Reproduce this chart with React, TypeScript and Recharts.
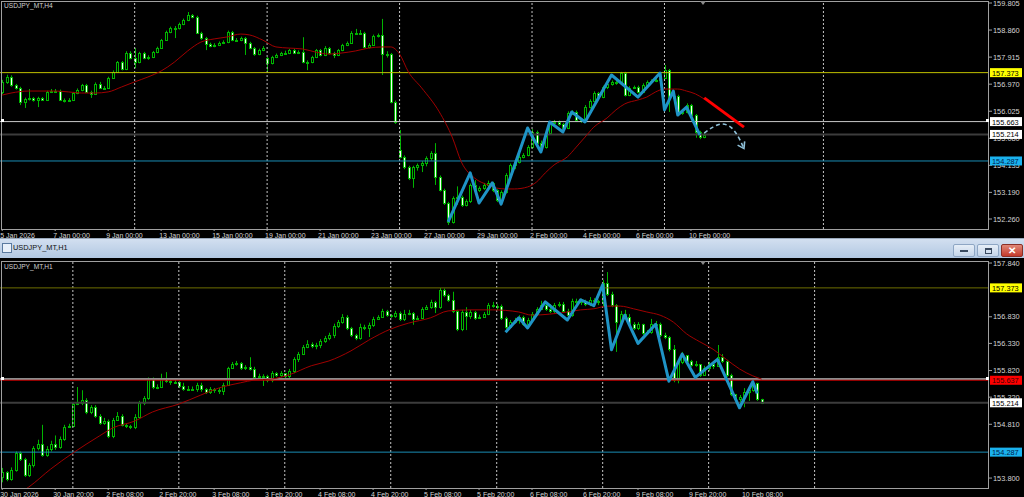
import React from 'react';
import { ComposedChart, Bar, Line, XAxis, YAxis, ReferenceLine } from 'recharts';

const FONT = '"Liberation Sans", Arial, sans-serif';
const SLOTS = 224;
const GREEN = '#00b400';

// ---------- H4 chart ----------
const h4Title = 'USDJPY_MT,H4';
const h4Labels = ['5 Jan 2026', '7 Jan 00:00', '9 Jan 00:00', '13 Jan 00:00', '15 Jan 00:00', '19 Jan 00:00', '21 Jan 00:00', '23 Jan 00:00', '27 Jan 00:00', '29 Jan 00:00', '2 Feb 00:00', '4 Feb 00:00', '6 Feb 00:00', '10 Feb 00:00'];
const h4YTicks = [159.805, 158.86, 157.915, 156.97, 156.025, 155.08, 154.135, 153.19, 152.26];
const h4Domain: [number, number] = [151.911, 159.875];
const h4GridBars = [30, 60, 90, 120, 150, 186];
const h4FirstOpen = 156.7;
const h4GapOpens: Record<number, number> = { 60: 157.88, 90: 154.67 };
const h4Close = [
  157.05, 157.22, 156.94, 156.84, 156.35, 156.45, 156.49, 156.42, 156.49, 156.42,
  156.70, 156.73, 156.73, 156.42, 156.38, 156.42, 156.66, 156.77, 156.94, 156.70,
  156.63, 156.98, 156.84, 156.84, 157.19, 157.40, 157.74, 157.50, 158.06, 157.88,
  157.74, 158.06, 157.88, 157.92, 158.09, 158.23, 158.51, 158.79, 158.93, 158.93,
  159.07, 159.21, 159.39, 159.32, 158.76, 158.58, 158.37, 158.30, 158.34, 158.41,
  158.44, 158.79, 158.51, 158.51, 158.58, 158.41, 158.23, 158.02, 158.16, 158.23,
  157.71, 157.92, 157.99, 158.06, 158.06, 158.16, 158.06, 158.09, 157.74, 157.74,
  157.92, 158.16, 157.99, 158.23, 158.06, 157.99, 158.16, 158.34, 158.41, 158.76,
  158.76, 158.76, 158.27, 158.34, 158.65, 158.69, 158.02, 158.02, 156.35, 155.65,
  154.43, 154.08, 153.70, 154.08, 154.15, 154.22, 154.39, 154.57, 153.73, 153.27,
  152.82, 152.16, 153.00, 153.03, 152.75, 152.89, 153.45, 153.27, 153.34, 153.45,
  153.52, 153.27, 152.92, 153.20, 153.80, 154.15, 154.25, 154.43, 154.50, 154.77,
  155.30, 154.91, 154.77, 155.27, 155.62, 155.65, 155.58, 155.44, 155.96, 156.00,
  155.72, 155.68, 156.17, 156.38, 156.66, 156.52, 156.87, 156.98, 157.05, 157.01,
  157.36, 156.59, 156.84, 156.87, 156.70, 156.94, 157.05, 157.08, 157.12, 157.19,
  157.46, 156.49, 156.56, 155.96, 156.00, 156.24, 155.89, 155.30, 155.12, 155.21,
];
const h4High = [
  157.12, 157.30, 157.28, 156.98, 156.88, 156.50, 156.80, 156.52, 156.53, 156.52,
  156.74, 156.80, 156.80, 156.78, 156.47, 156.48, 156.70, 156.82, 156.98, 156.98,
  156.74, 157.03, 157.05, 156.90, 157.23, 157.45, 157.78, 157.78, 158.12, 158.12,
  158.23, 158.10, 158.10, 157.98, 158.13, 158.28, 158.55, 158.84, 158.98, 159.00,
  159.12, 159.26, 159.49, 159.42, 159.36, 158.80, 158.62, 158.42, 158.40, 158.46,
  158.50, 158.84, 158.83, 158.58, 158.63, 158.62, 158.45, 158.27, 158.21, 158.30,
  157.92, 157.96, 158.04, 158.10, 158.14, 158.20, 158.20, 158.15, 158.61, 157.80,
  157.96, 158.20, 158.20, 158.30, 158.27, 158.10, 158.20, 158.38, 158.46, 158.82,
  158.90, 158.86, 158.80, 158.40, 158.70, 158.74, 159.25, 158.12, 158.06, 156.40,
  155.37, 154.48, 154.12, 154.12, 154.20, 154.28, 154.45, 154.63, 154.91, 153.78,
  153.32, 152.86, 153.05, 153.40, 153.08, 152.95, 153.50, 153.62, 153.40, 153.52,
  153.60, 153.56, 153.30, 153.26, 153.86, 154.20, 154.30, 154.50, 154.56, 154.84,
  155.40, 155.35, 155.00, 155.32, 155.67, 155.72, 155.70, 155.62, 156.02, 156.06,
  156.05, 155.78, 156.24, 156.44, 156.72, 156.70, 156.92, 157.03, 157.10, 157.09,
  157.40, 157.40, 156.90, 156.92, 156.92, 157.00, 157.10, 157.14, 157.18, 157.24,
  157.64, 157.50, 156.62, 156.60, 156.05, 156.30, 156.28, 155.93, 155.34, 155.26,
];
const h4Low = [
  156.62, 156.98, 156.88, 156.78, 156.24, 156.14, 156.40, 156.36, 156.17, 156.38,
  156.38, 156.66, 156.66, 156.38, 156.33, 156.35, 156.38, 156.62, 156.72, 156.66,
  156.49, 156.60, 156.80, 156.78, 156.80, 157.15, 157.36, 157.45, 157.46, 157.84,
  157.53, 157.70, 157.84, 157.82, 157.88, 158.05, 158.20, 158.48, 158.75, 158.58,
  158.88, 159.03, 159.17, 159.27, 158.72, 158.52, 158.16, 158.26, 158.26, 158.30,
  158.37, 158.40, 158.47, 158.45, 158.47, 157.99, 158.19, 157.96, 157.98, 158.12,
  157.40, 157.66, 157.88, 157.95, 158.00, 158.02, 158.02, 158.02, 157.70, 157.46,
  157.70, 157.88, 157.94, 157.95, 158.00, 157.88, 157.95, 158.12, 158.30, 158.38,
  158.70, 158.70, 158.22, 158.22, 158.30, 158.60, 157.29, 157.90, 156.30, 155.58,
  154.38, 154.00, 153.62, 153.35, 153.95, 153.90, 154.10, 154.30, 153.45, 153.22,
  152.75, 152.05, 152.10, 152.75, 152.68, 152.70, 152.82, 153.20, 153.20, 153.28,
  153.30, 153.20, 152.85, 152.88, 153.15, 153.75, 154.00, 154.20, 154.38, 154.45,
  154.72, 154.85, 154.70, 154.72, 155.22, 155.56, 155.52, 155.38, 155.40, 155.90,
  155.66, 155.62, 155.64, 156.12, 156.34, 156.46, 156.48, 156.80, 156.92, 156.95,
  156.96, 156.54, 156.55, 156.80, 156.65, 156.66, 156.90, 157.00, 157.04, 157.08,
  157.15, 156.00, 156.44, 155.90, 155.90, 155.95, 155.84, 155.10, 155.05, 155.08,
];
const h4MaBars = [0, 2, 6, 9, 12, 15, 18, 21, 24, 27, 30, 33, 36, 39, 42, 45, 48, 51, 54, 56, 59, 62, 65, 68, 71, 74, 77, 80, 83, 86, 88, 90, 92, 95, 99, 102, 104, 107, 110, 112, 114, 116, 119, 121, 123, 125, 128, 130, 132, 134, 137, 139, 141, 144, 146, 148, 150, 153, 155, 157, 159];
const h4MaValues = [156.59, 156.66, 156.73, 156.73, 156.73, 156.70, 156.66, 156.66, 156.70, 156.87, 157.05, 157.22, 157.43, 157.74, 158.13, 158.44, 158.55, 158.62, 158.72, 158.69, 158.51, 158.27, 158.23, 158.20, 158.09, 158.02, 158.06, 158.13, 158.23, 158.27, 158.27, 158.02, 157.40, 156.84, 156.00, 155.09, 154.25, 153.69, 153.45, 153.34, 153.31, 153.31, 153.38, 153.55, 153.87, 154.15, 154.43, 154.77, 155.12, 155.47, 155.79, 156.07, 156.28, 156.42, 156.52, 156.70, 156.80, 156.80, 156.73, 156.63, 156.45];
const h4ZigBars = [101, 106, 108, 111, 113, 119, 122, 124, 127, 129, 132, 138, 144, 149, 150, 152, 153, 155, 158];
const h4ZigValues = [152.16, 153.87, 152.82, 153.52, 152.78, 155.44, 154.60, 155.65, 155.30, 156.00, 155.65, 157.29, 156.52, 157.36, 156.07, 156.73, 155.89, 156.17, 155.20];
const h4TrendBars = [159, 168];
const h4TrendValues = [156.49, 155.47];
const h4ArrowBars = [159, 161, 163, 165, 166, 167, 168];
const h4ArrowValues = [155.26, 155.47, 155.58, 155.47, 155.30, 155.05, 154.72];

// ---------- H1 chart ----------
const h1Title = 'USDJPY_MT,H1';
const h1Labels = ['30 Jan 2026', '30 Jan 20:00', '2 Feb 08:00', '2 Feb 20:00', '3 Feb 08:00', '3 Feb 20:00', '4 Feb 08:00', '4 Feb 20:00', '5 Feb 08:00', '5 Feb 20:00', '6 Feb 08:00', '6 Feb 20:00', '9 Feb 08:00', '9 Feb 20:00', '10 Feb 08:00'];
const h1YTicks = [157.84, 156.83, 156.33, 155.82, 155.32, 154.81, 153.8];
const h1Domain: [number, number] = [153.613, 157.878];
const h1GridBars = [16, 40, 64, 88, 112, 136, 160, 184];
const h1FirstOpen = 153.82;
const h1Close = [
  153.91, 153.78, 153.95, 154.27, 154.16, 153.86, 154.04, 154.36, 154.44, 154.23,
  154.35, 154.44, 154.38, 154.53, 154.76, 154.78, 155.19, 155.21, 155.27, 155.04,
  155.13, 154.97, 154.83, 154.87, 154.59, 154.89, 154.97, 154.80, 154.78, 154.76,
  154.95, 155.21, 155.30, 155.66, 155.51, 155.52, 155.66, 155.62, 155.60, 155.61,
  155.53, 155.47, 155.48, 155.48, 155.55, 155.47, 155.42, 155.47, 155.45, 155.43,
  155.55, 155.87, 155.94, 155.96, 155.87, 155.89, 155.85, 155.70, 155.72, 155.71,
  155.64, 155.77, 155.74, 155.77, 155.72, 155.81, 156.03, 156.13, 156.26, 156.32,
  156.28, 156.30, 156.37, 156.43, 156.49, 156.66, 156.73, 156.83, 156.62, 156.49,
  156.43, 156.64, 156.62, 156.68, 156.79, 156.83, 156.94, 156.86, 156.85, 156.90,
  156.79, 156.88, 156.90, 156.79, 156.81, 156.98, 157.01, 157.11, 157.01, 157.33,
  157.24, 157.15, 156.94, 156.60, 156.92, 156.85, 156.92, 156.81, 156.83, 156.88,
  157.05, 157.04, 157.03, 156.81, 156.64, 156.73, 156.77, 156.83, 156.70, 156.77,
  156.88, 156.98, 157.05, 156.98, 156.94, 157.05, 157.07, 156.94, 156.86, 157.13,
  157.11, 157.13, 157.07, 157.15, 157.13, 157.11, 157.46, 157.26, 157.05, 156.73,
  156.88, 156.83, 156.70, 156.62, 156.70, 156.53, 156.54, 156.70, 156.70, 156.49,
  156.45, 156.22, 155.64, 155.98, 156.11, 156.00, 155.92, 155.94, 155.74, 155.87,
  155.94, 155.90, 156.07, 156.00, 155.74, 155.38, 155.29, 155.32, 155.42, 155.45,
  155.59, 155.29, 155.21,
];
const h1High = [
  153.99, 153.93, 154.00, 154.30, 154.30, 154.18, 154.08, 154.40, 154.52, 154.80,
  154.40, 154.50, 154.60, 154.58, 154.80, 154.82, 155.22, 155.51, 155.45, 155.30,
  155.17, 155.17, 155.00, 154.93, 154.90, 154.93, 155.04, 155.00, 154.82, 154.80,
  155.00, 155.25, 155.34, 155.69, 155.69, 155.56, 155.76, 155.79, 155.66, 155.66,
  155.62, 155.59, 155.53, 155.52, 155.59, 155.59, 155.49, 155.51, 155.49, 155.49,
  155.59, 155.89, 155.98, 156.00, 155.98, 155.92, 156.07, 155.89, 155.76, 155.75,
  155.74, 155.81, 155.79, 155.81, 155.76, 155.85, 156.07, 156.17, 156.30, 156.39,
  156.35, 156.34, 156.41, 156.47, 156.53, 156.70, 156.77, 156.88, 156.86, 156.64,
  156.51, 156.70, 156.68, 156.72, 156.83, 156.86, 156.98, 156.96, 156.88, 156.94,
  156.93, 156.96, 156.96, 156.92, 156.85, 157.01, 157.05, 157.15, 157.13, 157.37,
  157.36, 157.26, 157.30, 156.96, 156.96, 157.01, 156.96, 156.94, 156.87, 156.92,
  157.09, 157.11, 157.07, 157.06, 156.83, 156.77, 156.81, 156.86, 156.85, 156.81,
  156.92, 157.01, 157.13, 157.09, 157.07, 157.09, 157.11, 157.11, 156.98, 157.17,
  157.17, 157.17, 157.15, 157.20, 157.18, 157.15, 157.52, 157.67, 157.30, 157.07,
  156.94, 156.96, 156.88, 156.73, 156.73, 156.68, 156.58, 156.79, 156.75, 156.72,
  156.53, 156.47, 156.30, 156.02, 156.17, 156.11, 156.02, 156.00, 155.94, 155.91,
  155.98, 155.96, 156.30, 156.13, 156.02, 155.76, 155.38, 155.36, 155.49, 155.53,
  155.62, 155.59, 155.25,
];
const h1Low = [
  153.72, 153.74, 153.75, 153.92, 154.12, 153.82, 153.82, 154.00, 154.32, 154.20,
  154.20, 154.30, 154.33, 154.35, 154.50, 154.74, 154.80, 155.17, 155.17, 155.00,
  155.00, 154.93, 154.80, 154.80, 154.55, 154.55, 154.88, 154.77, 154.74, 154.72,
  154.72, 154.92, 155.17, 155.27, 155.47, 155.47, 155.49, 155.59, 155.55, 155.57,
  155.49, 155.44, 155.44, 155.45, 155.42, 155.42, 155.38, 155.38, 155.40, 155.38,
  155.36, 155.53, 155.85, 155.91, 155.83, 155.83, 155.82, 155.66, 155.66, 155.53,
  155.60, 155.60, 155.70, 155.70, 155.68, 155.68, 155.77, 155.98, 156.11, 156.24,
  156.24, 156.22, 156.24, 156.34, 156.39, 156.43, 156.62, 156.70, 156.58, 156.45,
  156.39, 156.40, 156.58, 156.45, 156.64, 156.77, 156.81, 156.83, 156.81, 156.81,
  156.75, 156.75, 156.86, 156.68, 156.77, 156.79, 156.96, 156.98, 156.90, 156.98,
  157.20, 157.11, 156.90, 156.56, 156.56, 156.58, 156.79, 156.77, 156.79, 156.83,
  156.86, 157.00, 156.96, 156.77, 156.60, 156.62, 156.70, 156.70, 156.66, 156.62,
  156.73, 156.85, 156.96, 156.94, 156.90, 156.90, 157.01, 156.90, 156.81, 156.83,
  157.03, 157.05, 157.03, 157.03, 157.09, 157.05, 157.03, 157.22, 157.01, 156.17,
  156.70, 156.79, 156.66, 156.58, 156.58, 156.49, 156.49, 156.51, 156.64, 156.45,
  156.41, 156.18, 155.60, 155.58, 155.94, 155.96, 155.89, 155.89, 155.70, 155.72,
  155.81, 155.85, 155.89, 155.96, 155.70, 155.34, 155.25, 155.15, 155.13, 155.25,
  155.42, 155.25, 155.19,
];
const h1MaBars = [4, 6, 11, 16, 22, 25, 30, 34, 40, 45, 49, 54, 57, 61, 65, 70, 74, 79, 83, 88, 92, 97, 101, 106, 111, 114, 117, 120, 124, 128, 131, 134, 137, 140, 143, 146, 149, 152, 155, 158, 161, 164, 167, 170, 172];
const h1MaValues = [153.52, 153.63, 153.97, 154.27, 154.59, 154.74, 154.87, 155.04, 155.19, 155.36, 155.49, 155.59, 155.64, 155.66, 155.74, 155.91, 156.00, 156.19, 156.39, 156.60, 156.71, 156.81, 156.94, 156.96, 156.96, 156.95, 156.92, 156.86, 156.88, 156.92, 156.96, 156.98, 157.03, 157.03, 156.98, 156.92, 156.86, 156.73, 156.51, 156.36, 156.22, 156.03, 155.85, 155.72, 155.66];
const h1ZigBars = [114, 117, 119, 123, 128, 131, 134, 136, 138, 141, 144, 148, 151, 154, 157, 162, 167, 170, 171];
const h1ZigValues = [156.54, 156.81, 156.62, 157.11, 156.77, 157.15, 157.04, 157.43, 156.21, 156.86, 156.33, 156.69, 155.62, 156.13, 155.69, 156.03, 155.12, 155.61, 155.39];

// horizontal price levels
const levelHigh = 157.373;
const levelWhite = 155.663;
const levelBid = 155.214;
const levelLow = 154.287;
const h1SellLevel = 155.637;

type Level = { value: number; stroke: string; width: number; tagBg?: string; tagFg?: string };

const h4Levels: Level[] = [
  { value: levelHigh, stroke: '#c0c000', width: 1, tagBg: '#ffff00', tagFg: '#000' },
  { value: levelWhite, stroke: '#c8c8c8', width: 1, tagBg: '#ffffff', tagFg: '#000' },
  { value: levelBid, stroke: '#3c3c3c', width: 2, tagBg: '#ffffff', tagFg: '#000' },
  { value: levelLow, stroke: '#1a8cb4', width: 1, tagBg: '#1ab2ee', tagFg: '#00204a' },
];
const h1Levels: Level[] = [
  { value: levelHigh, stroke: '#6e6e00', width: 1, tagBg: '#ffff00', tagFg: '#000' },
  { value: levelWhite, stroke: '#8c8c8c', width: 2 },
  { value: h1SellLevel, stroke: '#c00000', width: 1, tagBg: '#ff0000', tagFg: '#3a0000' },
  { value: levelBid, stroke: '#3c3c3c', width: 2, tagBg: '#ffffff', tagFg: '#000' },
  { value: levelLow, stroke: '#1a8cb4', width: 1, tagBg: '#1ab2ee', tagFg: '#00204a' },
];

function toMap(bars: number[], values: number[]) {
  const m = new Map<number, number>();
  bars.forEach((b, k) => m.set(b, values[k]));
  return m;
}

function buildRows(
  close: number[], high: number[], low: number[], firstOpen: number,
  gaps: Record<number, number>, overlays: Record<string, [number[], number[]]>,
) {
  const maps = Object.entries(overlays).map(([k, [b, v]]) => [k, toMap(b, v)] as const);
  const rows: any[] = [];
  for (let i = 0; i < SLOTS; i++) {
    const row: any = { i, range: null };
    if (i < close.length) {
      const o = gaps[i] ?? (i === 0 ? firstOpen : close[i - 1]);
      const c = close[i];
      const h = Math.max(high[i], o, c);
      const l = Math.min(low[i], o, c);
      Object.assign(row, { o, c, h, l, range: [l, h] });
    }
    for (const [k, m] of maps) row[k] = m.has(i) ? m.get(i) : null;
    rows.push(row);
  }
  return rows;
}

const h4Rows = buildRows(h4Close, h4High, h4Low, h4FirstOpen, h4GapOpens, {
  ma: [h4MaBars, h4MaValues],
  zig: [h4ZigBars, h4ZigValues],
  trend: [h4TrendBars, h4TrendValues],
  arrow: [h4ArrowBars, h4ArrowValues],
});
const h1Rows = buildRows(h1Close, h1High, h1Low, h1FirstOpen, {}, {
  ma: [h1MaBars, h1MaValues],
  zig: [h1ZigBars, h1ZigValues],
});

function Candle(props: any) {
  const { x, y, width, height, payload } = props;
  if (!payload || payload.h == null) return <g />;
  const { o, c, h, l } = payload;
  const top = Math.min(y, y + height);
  const span = Math.abs(height);
  const py = (p: number) => (h === l ? top : top + ((h - p) / (h - l)) * span);
  const cx = Math.round(x + width / 2) + 0.5;
  const bTop = Math.round(py(Math.max(o, c)));
  const bBot = Math.round(py(Math.min(o, c)));
  const bull = c >= o;
  return (
    <g>
      <line x1={cx} x2={cx} y1={top} y2={top + span} stroke={GREEN} strokeWidth={1} />
      <rect x={cx - 1} y={bTop + 0.5} width={2} height={Math.max(1, bBot - bTop)}
        fill={bull ? '#000000' : '#f4fff4'} stroke={GREEN} strokeWidth={1} />
    </g>
  );
}

function YTick(props: any) {
  const { x, y, payload } = props;
  return (
    <text x={x + 1} y={y + 2.6} fontSize={7.4} fill="#d4d4d4" fontFamily={FONT} textAnchor="start">
      {Number(payload.value).toFixed(3)}
    </text>
  );
}

// price tags drawn by a second, 1px wide axis so they sit above the scale labels
function makeTagTick(levels: Level[]) {
  return function TagTick(props: any) {
    const { y, payload } = props;
    const lv = levels.find((l) => Math.abs(l.value - Number(payload.value)) < 1e-6);
    if (!lv || !lv.tagBg) return <g />;
    return (
      <g>
        <rect x={990} y={y - 4.5} width={32} height={9} fill={lv.tagBg} />
        <text x={992} y={y + 3} fontSize={7.4} fill={lv.tagFg} fontFamily={FONT}>{lv.value.toFixed(3)}</text>
      </g>
    );
  };
}

function makeXTick(labels: string[]) {
  return function XTick(props: any) {
    const { x, y, payload } = props;
    const k = Math.round(Number(payload.value) / 12);
    return (
      <text x={x - 2} y={y + 5} fontSize={7} fill="#d4d4d4" fontFamily={FONT} textAnchor="start">
        {labels[k] ?? ''}
      </text>
    );
  };
}

function ArrowDot(props: any) {
  const { cx, cy, payload, index } = props;
  if (!payload || payload.i !== h4ArrowBars[h4ArrowBars.length - 1] || cx == null) return <g key={`a${index}`} />;
  return (
    <g key={`a${index}`} transform={`translate(${cx},${cy}) rotate(62)`}>
      <path d="M-6,-4 L0,0 L-6,4" fill="none" stroke="#8fc0d8" strokeWidth={1.6} />
    </g>
  );
}

type ChartProps = {
  rows: any[];
  height: number;
  marginTop: number;
  domain: [number, number];
  yTicks: number[];
  labels: string[];
  grid: number[];
  levels: Level[];
  withDrawings: boolean;
};

function MtChart({ rows, height, marginTop, domain, yTicks, labels, grid, levels, withDrawings }: ChartProps) {
  const xTicks = labels.map((_, k) => k * 12);
  const tagValues = levels.filter((l) => l.tagBg).map((l) => l.value);
  return (
    <ComposedChart width={1024} height={height} data={rows} barCategoryGap="10%"
      margin={{ top: marginTop, right: 0, bottom: 0, left: 0 }}>
      <XAxis dataKey="i" type="category" ticks={xTicks} interval={0} height={9}
        axisLine={false} tickLine={{ stroke: '#a0a0a0' }} tickSize={2} tick={makeXTick(labels)} />
      <YAxis orientation="right" width={34} domain={domain} allowDataOverflow ticks={yTicks}
        interval={0} axisLine={false} tickLine={{ stroke: '#a0a0a0' }} tickSize={3} tickMargin={0}
        tick={<YTick />} />
      <YAxis yAxisId="tags" orientation="right" width={1} domain={domain} allowDataOverflow
        ticks={tagValues} interval={0} axisLine={false} tickLine={false} tick={makeTagTick(levels)} />
      {grid.map((b) => (
        <ReferenceLine key={`g${b}`} x={b} stroke="#c4c4c4" strokeDasharray="2 2" strokeWidth={1} />
      ))}
      {levels.map((lv) => (
        <ReferenceLine key={`l${lv.value}`} y={lv.value} stroke={lv.stroke} strokeWidth={lv.width} />
      ))}
      <Bar dataKey="range" shape={<Candle />} isAnimationActive={false} />
      <Line dataKey="ma" type="monotone" stroke="#a00000" strokeWidth={1} dot={false}
        connectNulls isAnimationActive={false} />
      <Line dataKey="zig" type="linear" stroke="#1f94c6" strokeWidth={3} strokeLinejoin="round"
        dot={false} connectNulls isAnimationActive={false} />
      {withDrawings && (
        <Line dataKey="trend" type="linear" stroke="#ff0000" strokeWidth={3} dot={false}
          connectNulls isAnimationActive={false} />
      )}
      {withDrawings && (
        <Line dataKey="arrow" type="monotone" stroke="#8fc0d8" strokeWidth={1.6} strokeDasharray="4 3"
          dot={<ArrowDot />} connectNulls isAnimationActive={false} />
      )}
    </ComposedChart>
  );
}

const frame = (top: number, height: number): React.CSSProperties => ({
  position: 'absolute', left: 1, top, width: 988, height, boxSizing: 'border-box',
  border: '1px solid #a0a0a0', pointerEvents: 'none',
});

const btn = (left: number, bg: string): React.CSSProperties => ({
  position: 'absolute', left, top: 244, width: 22, height: 13, borderRadius: 2,
  border: '1px solid #8ea6c4', background: bg, boxSizing: 'border-box',
  display: 'flex', alignItems: 'center', justifyContent: 'center',
});

export default function App() {
  return (
    <div style={{ position: 'absolute', left: 0, top: 0, width: 1024, height: 497, background: '#000', overflow: 'hidden', fontFamily: FONT }}>
      {/* H4 window */}
      <div style={{ position: 'absolute', left: 0, top: 0 }}>
        <MtChart rows={h4Rows} height={238} marginTop={1} domain={h4Domain} yTicks={h4YTicks}
          labels={h4Labels} grid={h4GridBars} levels={h4Levels} withDrawings />
      </div>
      <div style={frame(1, 229)} />
      <div style={{ position: 'absolute', left: 4, top: 2, fontSize: 6.6, color: '#d0d0d0' }}>{h4Title}</div>
      <div style={{ position: 'absolute', left: 1, top: 119, width: 3, height: 3, background: '#fff' }} />
      <div style={{ position: 'absolute', left: 986, top: 119, width: 3, height: 3, background: '#fff' }} />
      <div style={{ position: 'absolute', left: 700, top: 1, width: 0, height: 0, borderLeft: '3px solid transparent', borderRight: '3px solid transparent', borderTop: '4px solid #8a8a8a' }} />

      {/* H1 window title bar */}
      <div style={{ position: 'absolute', left: 0, top: 238, width: 1024, height: 20, background: 'linear-gradient(#d2dff0, #b2c8e2)', borderTop: '1px solid #9aa9bb', boxSizing: 'border-box' }}>
        <div style={{ position: 'absolute', left: 2, top: 4, width: 8, height: 8, border: '1px solid #5a7aa0', background: '#e8f0fa' }} />
        <div style={{ position: 'absolute', left: 13, top: 4, fontSize: 7.4, color: '#101010' }}>{h1Title}</div>
      </div>
      <div style={btn(953, 'linear-gradient(#e6eef8, #c4d4e8)')}>
        <div style={{ width: 8, height: 2, background: '#3a4a60' }} />
      </div>
      <div style={btn(977, 'linear-gradient(#e6eef8, #c4d4e8)')}>
        <div style={{ width: 7, height: 6, border: '1px solid #3a4a60', borderTopWidth: 2, boxSizing: 'border-box' }} />
      </div>
      <div style={{ ...btn(1001, 'linear-gradient(#e08878, #c43a2c)'), width: 22, border: '1px solid #8a3028', color: '#fff', fontSize: 10, fontWeight: 700, lineHeight: '11px' }}>✕</div>

      {/* H1 window */}
      <div style={{ position: 'absolute', left: 0, top: 258 }}>
        <MtChart rows={h1Rows} height={239} marginTop={3} domain={h1Domain} yTicks={h1YTicks}
          labels={h1Labels} grid={h1GridBars} levels={h1Levels} withDrawings={false} />
      </div>
      <div style={frame(261, 228)} />
      <div style={{ position: 'absolute', left: 4, top: 263, fontSize: 6.6, color: '#d0d0d0' }}>{h1Title}</div>
      <div style={{ position: 'absolute', left: 1, top: 377, width: 3, height: 3, background: '#fff' }} />
      <div style={{ position: 'absolute', left: 986, top: 377, width: 3, height: 3, background: '#fff' }} />
      <div style={{ position: 'absolute', left: 700, top: 261, width: 0, height: 0, borderLeft: '3px solid transparent', borderRight: '3px solid transparent', borderTop: '4px solid #8a8a8a' }} />
    </div>
  );
}
